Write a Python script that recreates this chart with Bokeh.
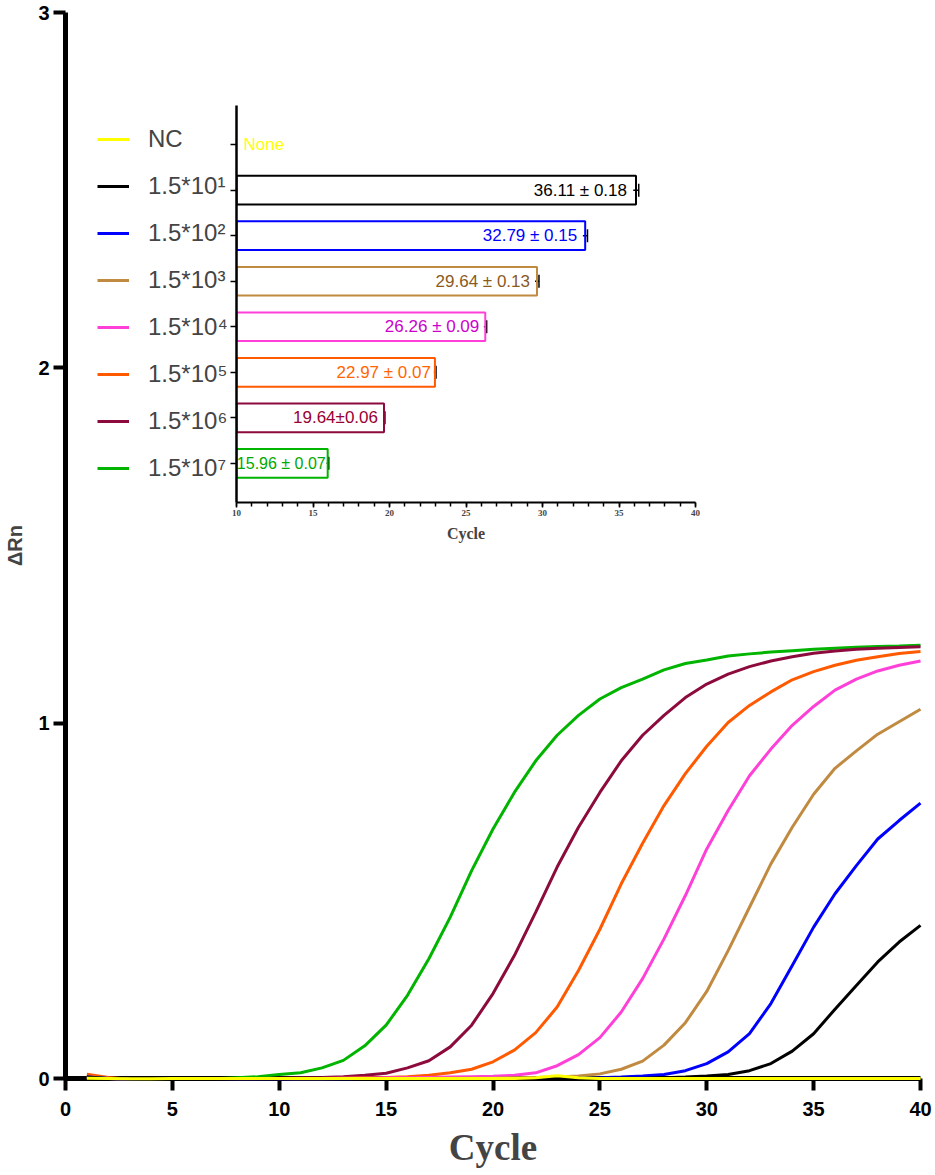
from bokeh.plotting import figure
from bokeh.models import (Range1d, FactorRange, FixedTicker, SingleIntervalTicker,
                          Legend, LegendItem, ColumnDataSource, Whisker, TeeHead)
from bokeh.layouts import column
from bokeh.embed import file_html
from bokeh.resources import INLINE
from bokeh.core.properties import value

# ---------------- data ----------------
cycles = list(range(1, 41))

nc_vals = [0.001, 0.000, -0.001, -0.001, 0.000, 0.000, 0.000, 0.000, 0.000, 0.000,
           0.000, 0.000, 0.000, 0.000, 0.000, 0.000, 0.000, 0.000, 0.000, 0.000,
           0.000, 0.002, 0.008, 0.002, 0.000, 0.000, 0.000, 0.000, 0.000, 0.000,
           0.000, 0.000, 0.000, 0.000, 0.000, 0.000, 0.000, 0.000, 0.000, 0.000]
e1_vals = [0.004, 0.000, -0.002, -0.003, -0.003, -0.003, -0.003, -0.002, -0.002, -0.002,
           -0.001, -0.001, -0.001, 0.000, 0.000, 0.000, 0.000, 0.000, 0.000, 0.000,
           0.000, 0.000, 0.000, 0.000, 0.001, 0.001, 0.001, 0.002, 0.004, 0.007,
           0.011, 0.022, 0.042, 0.077, 0.126, 0.195, 0.262, 0.328, 0.384, 0.431]
e2_vals = [0.004, 0.000, -0.002, -0.003, -0.003, -0.003, -0.003, -0.002, -0.002, -0.002,
           -0.001, -0.001, -0.001, 0.000, 0.000, 0.000, 0.000, 0.000, 0.000, 0.000,
           0.000, 0.001, 0.001, 0.001, 0.002, 0.004, 0.007, 0.011, 0.022, 0.042,
           0.075, 0.126, 0.211, 0.318, 0.426, 0.520, 0.599, 0.674, 0.726, 0.775]
e3_vals = [0.004, 0.000, -0.002, -0.003, -0.003, -0.003, -0.002, -0.002, -0.002, -0.001,
           -0.001, -0.001, 0.000, 0.000, 0.000, 0.000, 0.000, 0.001, 0.001, 0.001,
           0.002, 0.003, 0.004, 0.007, 0.013, 0.026, 0.049, 0.094, 0.157, 0.245,
           0.360, 0.482, 0.604, 0.707, 0.800, 0.873, 0.922, 0.969, 1.004, 1.039]
e4_vals = [0.005, 0.001, -0.002, -0.003, -0.003, -0.003, -0.002, -0.002, -0.001, -0.001,
           0.000, 0.000, 0.001, 0.001, 0.002, 0.002, 0.003, 0.004, 0.005, 0.006,
           0.009, 0.016, 0.036, 0.067, 0.115, 0.187, 0.281, 0.393, 0.515, 0.646,
           0.754, 0.852, 0.927, 0.994, 1.047, 1.093, 1.124, 1.147, 1.163, 1.175]
e5_vals = [0.012, 0.003, -0.002, -0.003, -0.003, -0.003, -0.002, -0.002, -0.001, -0.001,
           0.000, 0.000, 0.001, 0.002, 0.003, 0.005, 0.009, 0.016, 0.026, 0.047,
           0.080, 0.129, 0.201, 0.304, 0.420, 0.548, 0.662, 0.768, 0.858, 0.935,
           1.002, 1.050, 1.088, 1.122, 1.145, 1.163, 1.177, 1.187, 1.196, 1.202]
e6_vals = [0.004, 0.000, -0.002, -0.003, -0.003, -0.002, -0.002, -0.001, 0.000, 0.001,
           0.002, 0.003, 0.005, 0.009, 0.015, 0.030, 0.050, 0.089, 0.150, 0.239,
           0.346, 0.468, 0.595, 0.707, 0.805, 0.894, 0.966, 1.022, 1.072, 1.110,
           1.138, 1.159, 1.175, 1.187, 1.197, 1.203, 1.208, 1.211, 1.213, 1.215]
e7_vals = [0.006, 0.001, -0.002, -0.003, -0.003, -0.002, -0.001, 0.002, 0.005, 0.011,
           0.016, 0.030, 0.051, 0.092, 0.150, 0.234, 0.337, 0.454, 0.585, 0.702,
           0.805, 0.894, 0.966, 1.022, 1.068, 1.100, 1.124, 1.150, 1.168, 1.178,
           1.189, 1.195, 1.200, 1.204, 1.208, 1.211, 1.214, 1.216, 1.217, 1.219]

series_labels = ["NC", "1.5*10¹", "1.5*10²", "1.5*10³", "1.5*10⁴",
                 "1.5*10⁵", "1.5*10⁶", "1.5*10⁷"]
series_values = [nc_vals, e1_vals, e2_vals, e3_vals, e4_vals, e5_vals, e6_vals, e7_vals]
line_colors = ["#FFFF00", "#000000", "#0000FF", "#C08A40", "#FF40D8",
               "#FF5A00", "#8C0A3C", "#00B400"]

# inset (Ct values)
ct_labels = series_labels[1:]
ct_means = [36.11, 32.79, 29.64, 26.26, 22.97, 19.64, 15.96]
ct_sds = [0.18, 0.15, 0.13, 0.09, 0.07, 0.06, 0.07]
ct_texts = ["36.11 ± 0.18", "32.79 ± 0.15", "29.64 ± 0.13", "26.26 ± 0.09",
            "22.97 ± 0.07", "19.64±0.06", "15.96 ± 0.07"]
ct_text_colors = ["#000000", "#0000FF", "#8B5A1E", "#CC00CC",
                  "#FF6600", "#990033", "#00AA00"]
ct_text_offsets = [-9, -8, -7, -6, -4, -6, -2]
ct_text_sizes = ["17px", "17px", "17px", "17px", "17px", "17px", "16px"]
nc_text = "None"
inset_base = 10

x_ticks = [0, 5, 10, 15, 20, 25, 30, 35, 40]
y_ticks = [0, 1, 2, 3]

SANS = "Liberation Sans"
SERIF = "Liberation Serif"

# ---------------- main figure ----------------
p = figure(width=932, height=1170, x_range=Range1d(0, 40), y_range=Range1d(0, 3),
           output_backend="svg", toolbar_location=None,
           min_border_left=65, min_border_right=12, min_border_top=12, min_border_bottom=90)
p.background_fill_color = None
p.border_fill_color = None
p.outline_line_color = None
p.xgrid.visible = False
p.ygrid.visible = False

rmap = {}
for i in [7, 6, 5, 4, 3, 2, 1, 0]:
    r = p.line(cycles, series_values[i], line_color=line_colors[i], line_width=3,
               level="overlay")
    rmap[i] = r

for ax in (p.xaxis[0], p.yaxis[0]):
    ax.axis_line_width = 5
    ax.major_tick_line_width = 4
    ax.major_tick_out = 12
    ax.major_tick_in = 0
    ax.minor_tick_line_color = None
    ax.major_label_text_font = SANS
    ax.major_label_text_font_style = "bold"
    ax.major_label_text_font_size = "20px"
    ax.major_label_text_color = "black"

p.xaxis.ticker = FixedTicker(ticks=x_ticks)
p.yaxis.ticker = FixedTicker(ticks=y_ticks)
p.xaxis.major_label_standoff = 11
p.yaxis.major_label_standoff = 4
p.xaxis.axis_label = "Cycle"
p.xaxis.axis_label_text_font = SERIF
p.xaxis.axis_label_text_font_style = "bold"
p.xaxis.axis_label_text_font_size = "37px"
p.xaxis.axis_label_standoff = 8
p.yaxis.axis_label = "ΔRn"
p.yaxis.axis_label_text_font = SANS
p.yaxis.axis_label_text_font_style = "bold"
p.yaxis.axis_label_text_font_size = "20px"
p.yaxis.axis_label_standoff = 9

legend = Legend(items=[LegendItem(label=series_labels[i], renderers=[rmap[i]])
                       for i in range(len(series_labels))],
                location=(32, 596), orientation="vertical", padding=0, margin=0,
                spacing=19, label_height=28, glyph_height=28, glyph_width=32,
                label_standoff=19, label_text_font=SANS, label_text_font_size="24px",
                border_line_alpha=0, background_fill_alpha=0)
p.add_layout(legend)

# ---------------- inset figure ----------------
ins = figure(width=536, height=447, x_range=Range1d(10, 40),
             y_range=FactorRange(factors=series_labels[::-1], range_padding=0.36,
                                 range_padding_units="absolute"),
             output_backend="svg", toolbar_location=None,
             min_border_left=20, min_border_right=10, min_border_top=5, min_border_bottom=45)
ins.background_fill_color = None
ins.border_fill_color = None
ins.outline_line_color = None
ins.xgrid.visible = False
ins.ygrid.visible = False

src = ColumnDataSource(dict(
    y=ct_labels, right=ct_means,
    lo=[m - s for m, s in zip(ct_means, ct_sds)],
    hi=[m + s for m, s in zip(ct_means, ct_sds)],
    txt=ct_texts, tc=ct_text_colors, lc=line_colors[1:],
    xo=ct_text_offsets, fs=ct_text_sizes))

ins.hbar(y="y", left=inset_base, right="right", height=0.63, fill_alpha=0,
         line_color="lc", line_width=2, source=src)
wh = Whisker(base="y", lower="lo", upper="hi", dimension="width", source=src,
             line_color="black", line_width=1.5,
             upper_head=TeeHead(size=13, line_width=1.5, line_color="black"),
             lower_head=None)
ins.add_layout(wh)
ins.text(x="right", y="y", text="txt", text_color="tc", source=src,
         text_align="right", text_baseline="middle", x_offset="xo",
         text_font=value(SANS), text_font_size="fs")
ins.text(x=[inset_base], y=[series_labels[0]], text=[nc_text], text_color="#FFFF00",
         text_align="left", text_baseline="middle", x_offset=7,
         text_font=value(SANS), text_font_size="17px")

ins.xaxis.ticker = SingleIntervalTicker(interval=5, num_minor_ticks=5)
ins.xaxis.axis_line_width = 2
ins.xaxis.major_tick_line_width = 1.5
ins.xaxis.major_tick_out = 5
ins.xaxis.major_tick_in = 0
ins.xaxis.minor_tick_line_width = 1.5
ins.xaxis.minor_tick_out = 4
ins.xaxis.minor_tick_in = 0
ins.xaxis.major_label_text_font = SERIF
ins.xaxis.major_label_text_font_style = "bold"
ins.xaxis.major_label_text_font_size = "9px"
ins.xaxis.major_label_standoff = 2
ins.xaxis.axis_label = "Cycle"
ins.xaxis.axis_label_text_font = SERIF
ins.xaxis.axis_label_text_font_style = "bold"
ins.xaxis.axis_label_text_font_size = "16px"
ins.xaxis.axis_label_standoff = 6

ins.yaxis.axis_line_width = 2.5
ins.yaxis.major_tick_line_width = 1.5
ins.yaxis.major_tick_out = 6
ins.yaxis.major_tick_in = 0
ins.yaxis.major_label_text_font_size = "4px"
ins.yaxis.major_label_text_color = None
ins.yaxis.major_label_standoff = 0

ins.margin = (-1070, 0, 623, 171)

layout = column(p, ins)
open("out.html", "w").write(file_html(layout, INLINE))
